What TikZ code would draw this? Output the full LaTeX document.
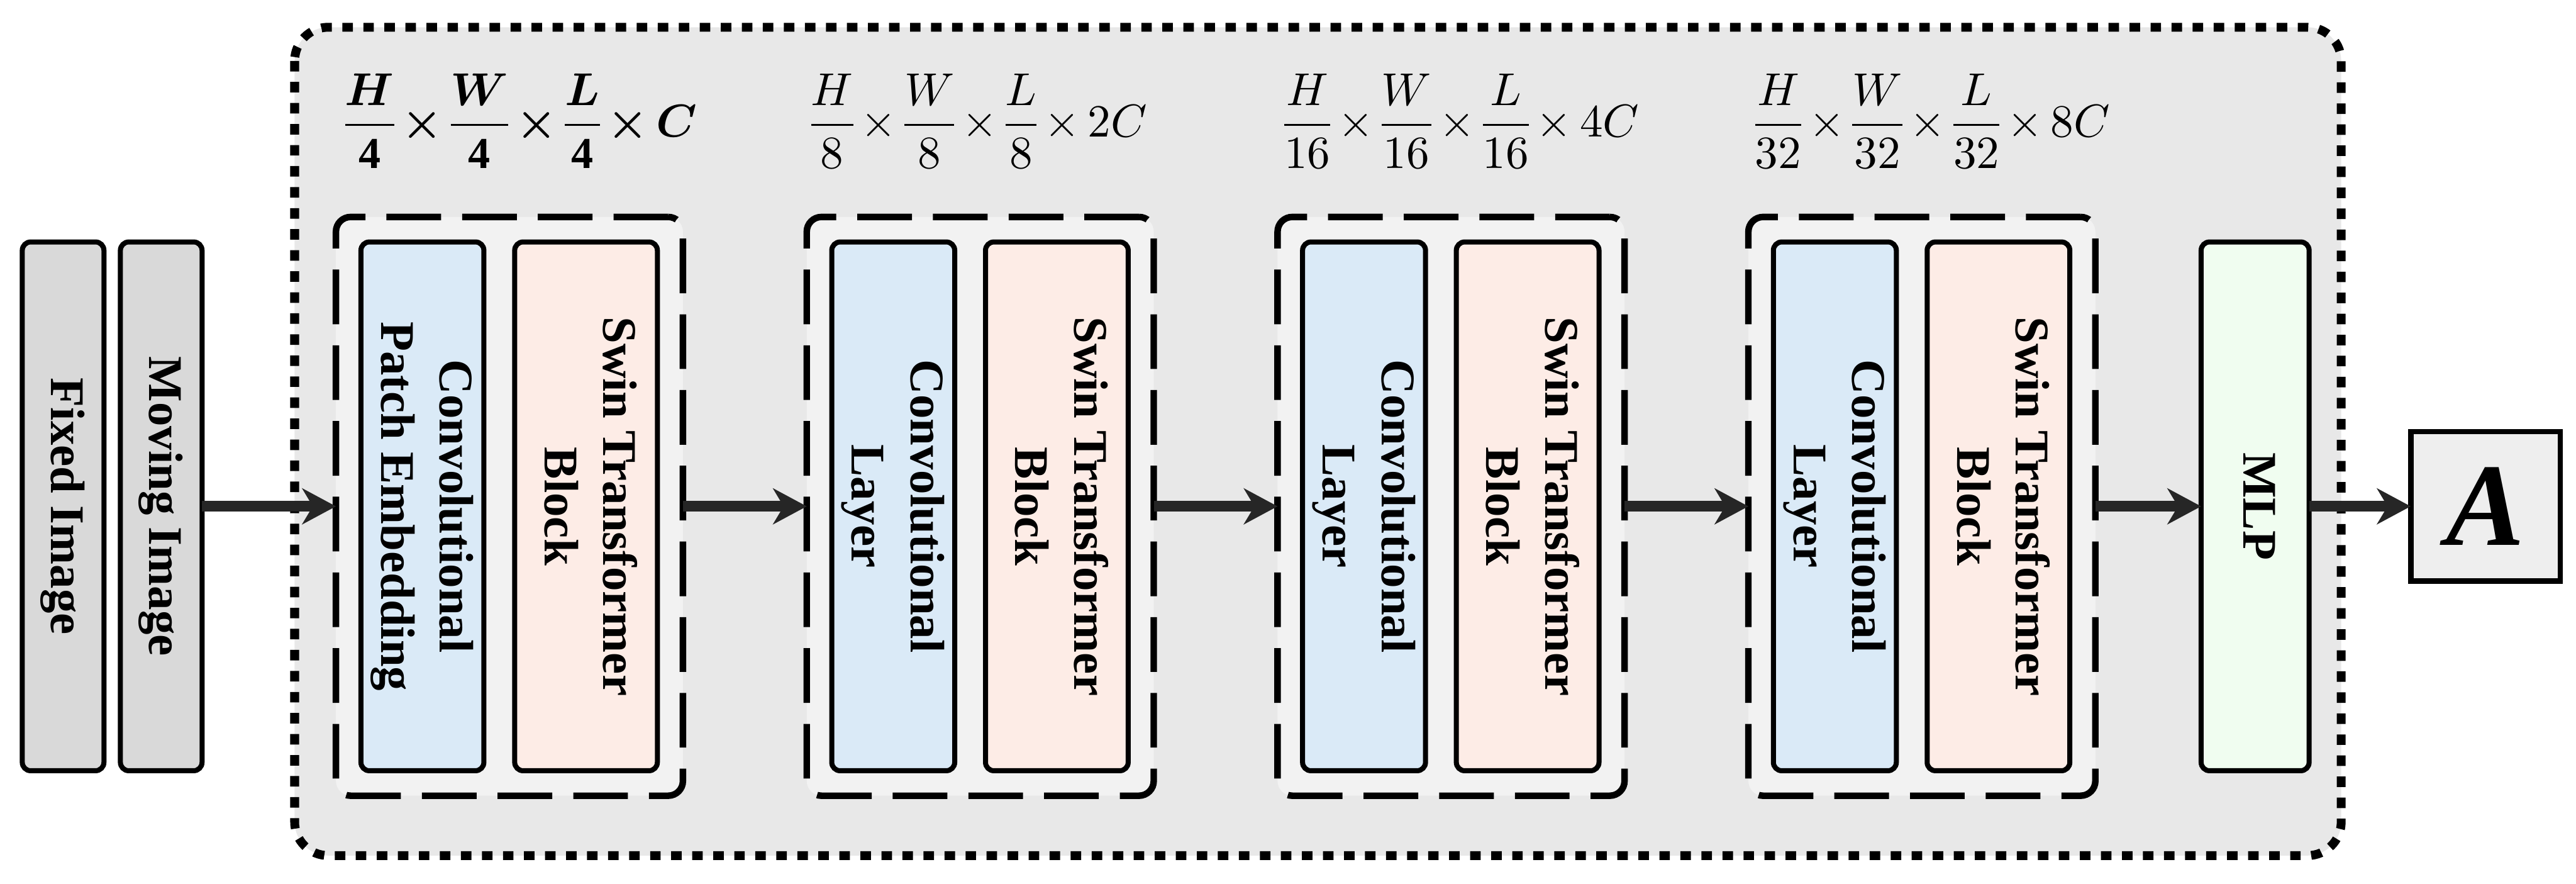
\documentclass[tikz,border=0pt]{standalone}
\usepackage{fontspec}
\setmainfont{Liberation Serif}
\usepackage{amsmath}
\usepackage{bm}
\usepackage{graphicx}
\usepackage{tikz}
\usetikzlibrary{arrows.meta, positioning}

\definecolor{panelgray}{HTML}{E8E8E8}
\definecolor{stagegray}{HTML}{F2F2F2}
\definecolor{inputgray}{HTML}{D9D9D9}
\definecolor{convblue}{HTML}{DAEAF7}
\definecolor{swinpink}{HTML}{FDECE6}
\definecolor{mlpgreen}{HTML}{F0FDF0}
\definecolor{outgray}{HTML}{EEEEEE}
\definecolor{flowgray}{HTML}{262626}

\newcommand{\vtext}[1]{\rotatebox{-90}{\begin{tabular}{@{}c@{}}#1\end{tabular}}}
\newcommand{\shapesize}[2]{\medmuskip=3mu\nulldelimiterspace=0pt
  $\dfrac{H}{#1}\times\dfrac{W}{#1}\times\dfrac{L}{#1}\times #2C$}
\newcommand{\boldshape}[2]{\medmuskip=3mu\nulldelimiterspace=0pt
  $\dfrac{\bm{H}}{\mathbf{#1}}\bm{\times}\dfrac{\bm{W}}{\mathbf{#1}}\bm{\times}\dfrac{\bm{L}}{\mathbf{#1}}\bm{\times}\mathbf{#2}\bm{C}$}

\begin{document}
\begin{tikzpicture}[
  font=\bfseries\fontsize{11.5}{14}\selectfont,
  blk/.style={
    draw=black, line width=1.2pt, rounded corners=2pt, fill=#1,
    minimum height=4.4175cm, inner sep=0pt, outer sep=0pt
  },
  stage/.style={
    draw=black, line width=1.55pt, dash pattern=on 13pt off 5pt, rounded corners=3.5pt,
    fill=stagegray, minimum width=2.9cm, minimum height=4.835cm, inner sep=0pt, outer sep=0pt
  },
  dimtag/.style={font=\mdseries\fontsize{10.5}{12}\selectfont, inner sep=0pt, anchor=south west},
  flow/.style={draw=flowgray, line width=2.6pt, -{Stealth[length=8pt, width=8.5pt, inset=2.5pt]}}
]
  \useasboundingbox (0,0) rectangle (21.53,-7.385);
  \draw[line width=2.1pt, dash pattern=on 2.5pt off 2.5pt, rounded corners=8pt, fill=panelgray]
    (2.4625,-0.2275) rectangle (19.5675,-7.1475);

  \node[blk=inputgray, minimum width=0.6825cm] (fixed) at (0.5275,-4.23) {\vtext{Fixed Image}};
  \node[blk=inputgray, minimum width=0.6825cm, right=0.1375cm of fixed] (moving) {\vtext{Moving Image}};

  \node[stage, right=1.119cm of moving] (st1) {};
  \node[stage, right=1.035cm of st1] (st2) {};
  \node[stage, right=1.035cm of st2] (st3) {};
  \node[stage, right=1.035cm of st3] (st4) {};

  \node[blk=convblue, minimum width=1.0275cm, right=0.209cm of st1.west] (cv1) {\vtext{Convolutional\\Patch Embedding}};
  \node[blk=swinpink, minimum width=1.1925cm, right=0.2575cm of cv1] (sw1) {\vtext{Swin Transformer\\Block}};
  \node[blk=convblue, minimum width=1.0275cm, right=0.209cm of st2.west] (cv2) {\vtext{Convolutional\\Layer}};
  \node[blk=swinpink, minimum width=1.1925cm, right=0.2575cm of cv2] (sw2) {\vtext{Swin Transformer\\Block}};
  \node[blk=convblue, minimum width=1.0275cm, right=0.209cm of st3.west] (cv3) {\vtext{Convolutional\\Layer}};
  \node[blk=swinpink, minimum width=1.1925cm, right=0.2575cm of cv3] (sw3) {\vtext{Swin Transformer\\Block}};
  \node[blk=convblue, minimum width=1.0275cm, right=0.209cm of st4.west] (cv4) {\vtext{Convolutional\\Layer}};
  \node[blk=swinpink, minimum width=1.1925cm, right=0.2575cm of cv4] (sw4) {\vtext{Swin Transformer\\Block}};

  \node[dimtag] (d1) at ([xshift=0.07cm, yshift=0.4cm]st1.north west) {\boldshape{4}{}};
  \node[dimtag] (d2) at ([xshift=0.03cm, yshift=0.4cm]st2.north west) {\shapesize{8}{2}};
  \node[dimtag] (d3) at ([xshift=0.05cm, yshift=0.4cm]st3.north west) {\shapesize{16}{4}};
  \node[dimtag] (d4) at ([xshift=0.05cm, yshift=0.4cm]st4.north west) {\shapesize{32}{8}};

  \node[blk=mlpgreen, minimum width=0.9025cm, right=0.884cm of st4] (mlp) {\vtext{MLP}};
  \node[draw=black, line width=1.3pt, fill=outgray, minimum size=1.25cm, inner sep=0pt, outer sep=0pt,
    right=0.849cm of mlp] (res) {\fontsize{28}{30}\selectfont\bfseries\itshape A};

  \draw[flow] (moving) -- (st1);
  \draw[flow] (st1) -- (st2);
  \draw[flow] (st2) -- (st3);
  \draw[flow] (st3) -- (st4);
  \draw[flow] (st4) -- (mlp);
  \draw[flow] (mlp) -- (res);
\end{tikzpicture}
\end{document}
